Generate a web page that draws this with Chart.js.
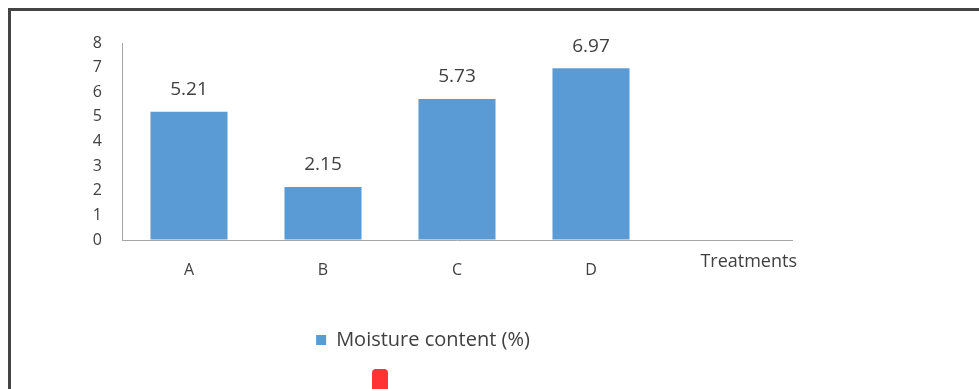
<!DOCTYPE html>
<html>
<head>
<meta charset="utf-8">
<script src="https://cdn.jsdelivr.net/npm/chart.js@4"></script>
<style>
  html, body { margin: 0; padding: 0; background: #fff; }
  body { width: 979px; height: 389px; position: relative; overflow: hidden; }
  #chart { position: absolute; left: 0; top: 0; }
  .frame-left { position: absolute; left: 8px; top: 8px; width: 3px; bottom: 0; background: #444; }
  .frame-top { position: absolute; left: 8px; top: 8px; right: 0; height: 3px; background: #444; }
  .pin { position: absolute; left: 372px; top: 369px; width: 16px; height: 20px; background: #ff3333; border-radius: 4px 4px 0 0; }
</style>
</head>
<body>
<div class="frame-left"></div>
<div class="frame-top"></div>
<canvas id="chart" width="979" height="389"></canvas>
<div class="pin"></div>
<script>
// --- dados ---
const categories = ["A", "B", "C", "D", ""];
const moisture = [5.21, 2.15, 5.73, 6.97, null];
const yTicks = [0, 1, 2, 3, 4, 5, 6, 7, 8];
const seriesName = "Moisture content (%)";
const axisTitle = "Treatments";

const FONT = "'Open Sans', sans-serif";
const TEXT = "#404040";

// valores escritos acima de cada barra
const barValues = {
    id: "barValues",
    afterDatasetsDraw(chart) {
        const ctx = chart.ctx;
        const meta = chart.getDatasetMeta(0);
        ctx.save();
        ctx.font = "19px " + FONT;
        ctx.fillStyle = TEXT;
        ctx.textAlign = "center";
        ctx.textBaseline = "middle";
        meta.data.forEach((bar, i) => {
            const v = moisture[i];
            if (v == null) return;
            ctx.fillText(v.toFixed(2), bar.x, bar.y - 22);
        });
        ctx.restore();
    }
};

// título do eixo x, no canto direito
const xTitle = {
    id: "xTitle",
    afterDraw(chart) {
        const x = chart.scales.x;
        const ctx = chart.ctx;
        ctx.save();
        ctx.font = "18px " + FONT;
        ctx.fillStyle = TEXT;
        ctx.textAlign = "right";
        ctx.textBaseline = "middle";
        ctx.fillText(axisTitle, x.right + 5, x.top + 22);
        ctx.restore();
    }
};

new Chart(document.getElementById("chart").getContext("2d"), {
    type: "bar",
    data: {
        labels: categories,
        datasets: [{
            label: seriesName,
            data: moisture,
            backgroundColor: "#5B9BD5",
            categoryPercentage: 1,
            barPercentage: 0.575
        }]
    },
    options: {
        responsive: false,
        animation: false,
        layout: { padding: { left: 54, right: 187, top: 43, bottom: 29 } },
        scales: {
            x: {
                grid: { display: true, color: "transparent", drawTicks: false },
                border: { color: "#a6a6a6", width: 1 },
                ticks: { padding: 21, color: TEXT, font: { family: FONT, size: 16 } },
                afterFit(scale) { scale.height = 80; }
            },
            y: {
                min: 0,
                max: 8,
                grid: { display: true, color: "transparent", drawTicks: false },
                border: { color: "#a6a6a6", width: 1 },
                afterBuildTicks(scale) { scale.ticks = yTicks.map(v => ({ value: v })); },
                ticks: { padding: 20, color: TEXT, font: { family: FONT, size: 16 } },
                afterFit(scale) { scale.width = 68; }
            }
        },
        plugins: {
            legend: {
                position: "bottom",
                labels: {
                    boxWidth: 10,
                    boxHeight: 10,
                    padding: 10,
                    color: TEXT,
                    font: { family: FONT, size: 20 }
                }
            },
            tooltip: { enabled: false }
        }
    },
    plugins: [barValues, xTitle]
});
</script>
</body>
</html>
